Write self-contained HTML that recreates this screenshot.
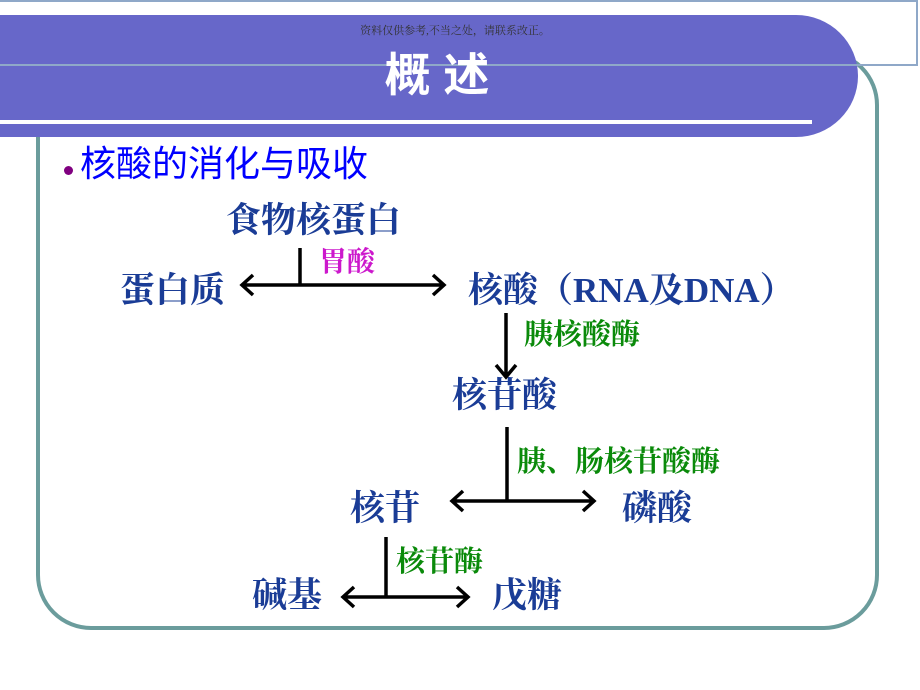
<!DOCTYPE html>
<html><head><meta charset="utf-8"><style>
body{margin:0;width:920px;height:690px;position:relative;overflow:hidden;background:#fff;font-family:"Liberation Serif","Noto Serif CJK SC",serif}
.a{position:absolute;white-space:nowrap;line-height:1}
.b{color:#1a3c96;font-weight:bold;font-size:35px}
.g{color:#0a8a0a;font-weight:bold;font-size:29px}
</style></head><body>
<div style="position:absolute;left:36px;top:50px;width:835px;height:572px;border:4px solid #6b9c9c;border-radius:55px"></div>
<div style="position:absolute;left:0;top:15px;width:858px;height:122px;background:#6767c9;border-radius:0 62px 62px 0/0 61px 61px 0"></div>
<div style="position:absolute;left:0;top:120px;width:812px;height:4px;background:#fff"></div>
<div style="position:absolute;left:0;top:0;width:916px;height:62px;border:2px solid #8fa8c8;border-left:none"></div>
<div class="a" style="left:0;width:910px;text-align:center;top:26px;font-size:11px;color:#333">资料仅供参考,不当之处，请联系改正。</div>
<div class="a" style="left:0;width:874px;text-align:center;top:52px;font-size:46px;color:#fff;font-family:'Liberation Sans','Noto Sans CJK SC',sans-serif;font-weight:bold">概 述</div>
<div style="position:absolute;left:64px;top:166px;width:9px;height:9px;border-radius:50%;background:#800080"></div>
<div class="a" style="left:80px;top:146px;font-size:36px;color:#0000ff;font-family:'Liberation Sans','Noto Sans CJK SC',sans-serif">核酸的消化与吸收</div>
<div class="a b" style="left:226px;top:203px">食物核蛋白</div>
<div class="a b" style="left:120px;top:273px">蛋白质</div>
<div class="a b" style="left:468px;top:273px">核酸（RNA及DNA）</div>
<div class="a b" style="left:452px;top:378px">核苷酸</div>
<div class="a b" style="left:350px;top:491px">核苷</div>
<div class="a b" style="left:622px;top:491px">磷酸</div>
<div class="a b" style="left:252px;top:578px">碱基</div>
<div class="a b" style="left:492px;top:578px">戊糖</div>
<div class="a" style="left:319px;top:249px;font-size:28px;font-weight:bold;color:#cc18cc">胃酸</div>
<div class="a g" style="left:524px;top:321px">胰核酸酶</div>
<div class="a g" style="left:517px;top:448px">胰、肠核苷酸酶</div>
<div class="a g" style="left:396px;top:548px">核苷酶</div>
<svg width="920" height="690" style="position:absolute;left:0;top:0" fill="none" stroke="#000" stroke-width="3.5">
<path d="M300 248V285M242 285H444M253 275L242 285L253 295M433 275L444 285L433 295"/>
<path d="M506 313V376M496 365L506 377L516 365"/>
<path d="M507 427V501M452 501H594M463 491L452 501L463 511M583 491L594 501L583 511"/>
<path d="M386 537V597M343 597H468M354 587L343 597L354 607M457 587L468 597L457 607"/>
</svg>
</body></html>
